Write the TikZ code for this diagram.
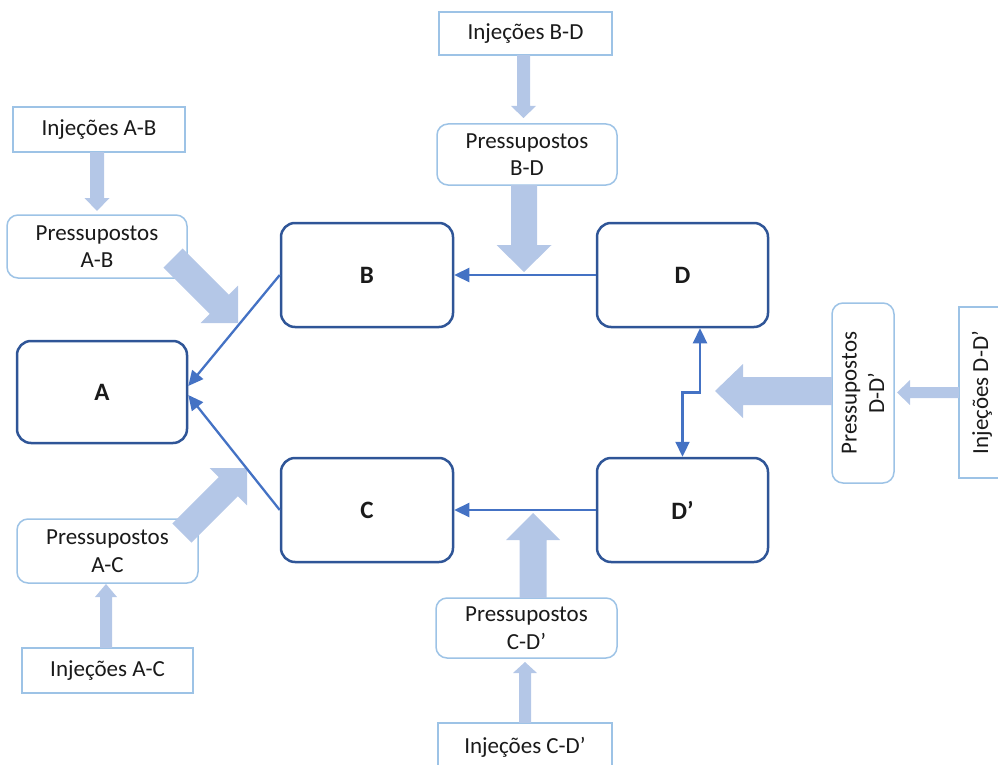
\documentclass[tikz,border=0pt]{standalone}
\usepackage{fontspec}
\setmainfont{Carlito}
\usetikzlibrary{calc,arrows.meta}
\definecolor{boxedge}{HTML}{2F5597}
\definecolor{linkblue}{HTML}{4472C4}
\definecolor{paleedge}{HTML}{9DC3E6}
\definecolor{palefill}{HTML}{B4C7E7}
\definecolor{ink}{HTML}{1A1A1A}
\tikzset{
  stage/.style={draw=boxedge, line width=2.5pt, rounded corners=14pt, fill=white,
    minimum width=170pt, minimum height=102pt, inner sep=0pt, text=ink,
    font=\fontsize{25}{30}\selectfont\bfseries},
  inject/.style={draw=paleedge, line width=1.5pt, fill=white, inner sep=0pt,
    align=center, text=ink, font=\fontsize{23}{27.5}\selectfont},
  premise/.style={inject, rounded corners=11pt},
  link/.style={draw=linkblue, line width=2.3pt},
  tip/.style={-{Triangle[length=15pt,width=14pt]}},
  feed/.style={fill=palefill},
}
% block arrow: #1 tail, #2 tip, #3 half shaft width, #4 half head width, #5 head length
\newcommand\feedarrow[5]{%
  \coordinate (fa-base) at ($(#2)!#5!(#1)$);
  \fill[feed] ($(#1)!#3!90:(#2)$) -- ($(fa-base)!#3!90:(#2)$)
    -- ($(fa-base)!#4!90:(#2)$) -- (#2) -- ($(fa-base)!#4!-90:(#2)$)
    -- ($(fa-base)!#3!-90:(#2)$) -- ($(#1)!#3!-90:(#2)$) -- cycle;}
\begin{document}
\begin{tikzpicture}[x=1pt,y=-1pt]
\useasboundingbox (0,0) rectangle (998,765);

% main stages
\node[stage] (A)  at (102,392)   {A};
\node[stage, minimum width=172pt, minimum height=104pt] (B)  at (367,275)   {B};
\node[stage, minimum width=172pt, minimum height=104pt] (C)  at (367,510)   {C};
\node[stage, minimum width=171pt, minimum height=104pt] (D)  at (682.5,275) {D};
\node[stage, minimum width=171pt, minimum height=104pt] (Dp) at (682.5,510) {D’};

% injections and premises
\node[inject, minimum width=172pt, minimum height=45pt] (injab) at (99,129.5) {Injeções A-B};
\node[premise, minimum width=180pt, minimum height=63pt] (pab) at (97,246.5) {Pressupostos\\A-B};
\node[premise, minimum width=181pt, minimum height=64pt] (pac) at (107.5,551) {Pressupostos\\A-C};
\node[inject, minimum width=171pt, minimum height=45pt] (injac) at (107.5,670.5) {Injeções A-C};
\node[inject, minimum width=173pt, minimum height=43pt] (injbd) at (525.5,33.5) {Injeções B-D};
\node[premise, minimum width=180pt, minimum height=61pt] (pbd) at (527,154.5) {Pressupostos\\B-D};
\node[premise, minimum width=181pt, minimum height=60pt] (pcd) at (526.5,628) {Pressupostos\\C-D’};
\node[inject, minimum width=174pt, minimum height=49pt] (injcd) at (525,747.5) {Injeções C-D’};
\node[premise, rotate=90, minimum width=180pt, minimum height=62pt] (pdd) at (863,393) {Pressupostos\\D-D’};
\node[inject, rotate=90, minimum width=171pt, minimum height=46pt] (injdd) at (982,392.5) {Injeções D-D’};

% anchor points of the block arrows
\coordinate (abT) at (97,152);    \coordinate (abH) at (97,211);
\coordinate (bdT) at (523.5,55);  \coordinate (bdH) at (523.5,118);
\coordinate (cdT) at (525,723);   \coordinate (cdH) at (525,662);
\coordinate (acT) at (106,648);   \coordinate (acH) at (106,584);
\coordinate (ddT) at (959,392.5); \coordinate (ddH) at (897,392.5);
\coordinate (pabT) at (173,258);  \coordinate (pabH) at (238,323);
\coordinate (pacT) at (182,533);  \coordinate (pacH) at (247,468);
\coordinate (pbdT) at (524,185);  \coordinate (pbdH) at (524,272);
\coordinate (pcdT) at (533,598);  \coordinate (pcdH) at (533,513);
\coordinate (pddT) at (832,391);  \coordinate (pddH) at (715,391);

% small block arrows: injections feed premises
\feedarrow{abT}{abH}{7pt}{12.5pt}{13pt}
\feedarrow{bdT}{bdH}{6.5pt}{12.5pt}{12pt}
\feedarrow{cdT}{cdH}{6pt}{12pt}{11pt}
\feedarrow{acT}{acH}{6pt}{11pt}{13pt}
\feedarrow{ddT}{ddH}{5.5pt}{12.5pt}{13pt}

% large block arrows: premises act on the links
\feedarrow{pabT}{pabH}{13.5pt}{26.5pt}{26.5pt}
\feedarrow{pacT}{pacH}{13.5pt}{26.5pt}{26.5pt}
\feedarrow{pbdT}{pbdH}{13pt}{27.5pt}{27pt}
\feedarrow{pcdT}{pcdH}{13.5pt}{27pt}{27pt}
\feedarrow{pddT}{pddH}{14pt}{27pt}{28pt}

% links between stages
\draw[link, tip] (B.west) -- ([yshift=6pt]A.east);
\draw[link, tip] (C.west) -- ([yshift=-3pt]A.east);
\draw[link, tip] (D.west) -- (B.east);
\draw[link, tip] (Dp.west) -- (C.east);
\coordinate (ddmid) at ($(D.south)!0.5!(Dp.north)$);
\draw[link, {Triangle[length=15pt,width=14pt]}-{Triangle[length=15pt,width=14pt]}]
  ([xshift=17.5pt]D.south) |- (ddmid) -- (Dp.north);
\end{tikzpicture}
\end{document}
